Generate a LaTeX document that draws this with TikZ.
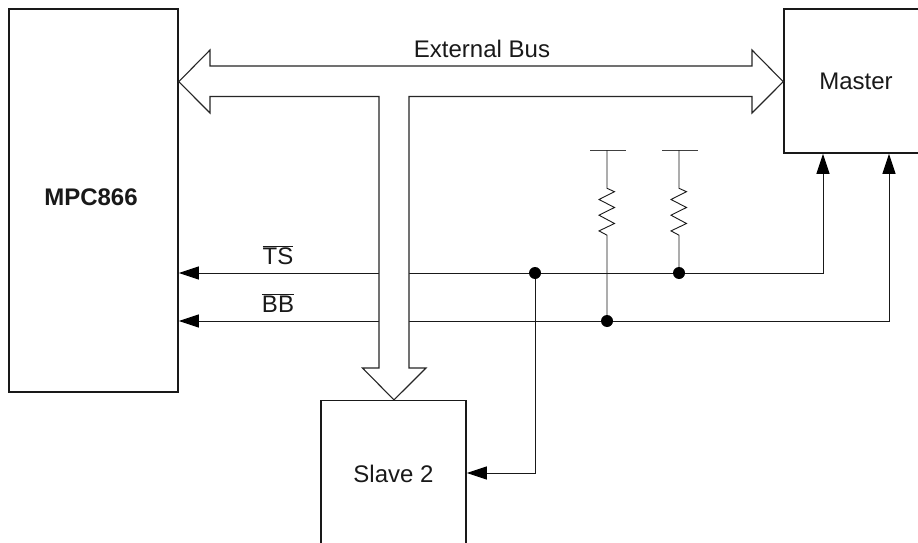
\documentclass[tikz,border=0pt]{standalone}
\usepackage{fontspec}
\setmainfont{Liberation Sans}
\usetikzlibrary{arrows.meta}
\tikzset{
  box/.style={draw=black!90,line width=1.5pt,fill=none,inner sep=0pt},
  lab/.style={inner sep=0pt,font=\fontsize{24}{27}\selectfont,text=black!90},
  sig/.style={draw=black!90,line width=1pt,line join=miter},
  sigarrow/.style={sig,-{Triangle[length=20pt,width=13pt,color=black]}},
  buspoly/.style={draw=black!85,line width=1.1pt,fill=white,line join=miter},
  dot/.style={circle,fill=black,inner sep=0pt,minimum size=12pt},
  rail/.style={draw=black!75,line width=1pt},
}
\begin{document}
\begin{tikzpicture}[x=1pt,y=-1pt]
\clip (0,0) rectangle (918,543);
\fill[white] (0,0) rectangle (918,543);
% boxes
\node[box,minimum width=169pt,minimum height=383pt] (mpc) at (93.5,200.5) {};
\node[lab,font=\fontsize{24}{27}\selectfont\bfseries] (mpclabel) at (91,197) {MPC866};
\node[box,minimum width=144pt,minimum height=144pt,lab] (master) at (856,81) {Master};
\node[box,minimum width=145pt,minimum height=146.6pt,lab] (slave) at (393.5,474) {Slave 2};
% junctions
\node[dot] (j1) at (535,273) {};
\node[dot] (j2) at (679,273) {};
\node[dot] (j3) at (607,321) {};
% power rails
\coordinate (r1) at (607,150);
\coordinate (r2) at (679,150);
\draw[rail] ([xshift=-17pt]r1) -- ([xshift=19pt]r1);
\draw[rail] ([xshift=-17pt]r2) -- ([xshift=19pt]r2);
% resistors
\foreach \r/\j in {r1/j3,r2/j2}{
  \draw[sig,line width=.9pt] (\r) -- ++(0,38.3) -- ++(7.5,3.4) -- ++(-15.5,7.8) -- ++(15.5,8) -- ++(-15.5,7.7)
     -- ++(15.5,8.3) -- ++(-15.5,7.4) -- ++(8,4.3) -- (\j);
}
% signals
\draw[sigarrow] (j1) -- (mpc.east |- j1);
\draw[sig] (j1) -- (j2);
\draw[sigarrow] (j2) -| (823,153.8);
\draw[sigarrow] (j3) -- (mpc.east |- j3);
\draw[sigarrow] (j3) -| (889,153.8);
\draw[sigarrow] (j1) |- (slave.east |- 0,473);
% bus
\draw[buspoly] (mpc.east |- 0,81.7) -- (210,50) -- (210,66) -- (752,66) -- (752,50)
  -- (master.west |- 0,81.7) -- (752,113) -- (752,96.5) -- (409,96.5) -- (409,368)
  -- (426,368) -- (slave.north -| 394,400.7) -- (362.5,368) -- (379,368) -- (379,96.5)
  -- (210,96.5) -- (210,113) -- cycle;
% labels
\node[lab] (buslabel) at (482,49) {External Bus};
\node[lab,anchor=base] (tslabel) at (278,264) {$\overline{\mbox{TS}}$};
\node[lab,anchor=base] (bblabel) at (278,312) {$\overline{\mbox{BB}}$};
\end{tikzpicture}
\end{document}
